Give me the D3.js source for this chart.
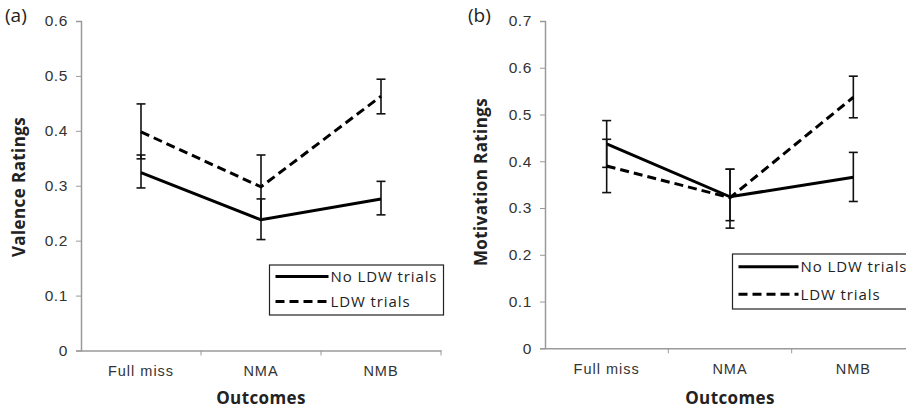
<!DOCTYPE html>
<html>
<head>
<meta charset="utf-8">
<script src="https://cdn.jsdelivr.net/npm/d3@7"></script>
<style>
  body { margin: 0; background: #fff; }
  svg { display: block; font-family: "Open Sans", sans-serif; }
</style>
</head>
<body>
<div class="container"></div>
<script>
const w = 906;
const h = 410;

const outcomes = ['Full miss', 'NMA', 'NMB'];
const seriesNames = ['No LDW trials', 'LDW trials'];

// panel (a) valence
const valenceNoLdw = [0.324, 0.238, 0.276];
const valenceNoLdwLow = [0.296, 0.202, 0.247];
const valenceNoLdwHigh = [0.356, 0.276, 0.308];
const valenceLdw = [0.398, 0.298, 0.463];
const valenceLdwLow = [0.349, 0.240, 0.431];
const valenceLdwHigh = [0.449, 0.356, 0.494];
const valenceTicks = [0, 0.1, 0.2, 0.3, 0.4, 0.5, 0.6];

// panel (b) motivation
const motivNoLdw = [0.437, 0.324, 0.366];
const motivNoLdwLow = [0.387, 0.273, 0.314];
const motivNoLdwHigh = [0.487, 0.383, 0.419];
const motivLdw = [0.390, 0.322, 0.537];
const motivLdwLow = [0.333, 0.257, 0.493];
const motivLdwHigh = [0.447, 0.383, 0.582];
const motivTicks = [0, 0.1, 0.2, 0.3, 0.4, 0.5, 0.6, 0.7];

const svg = d3.select('.container')
    .append('svg')
    .attr('width', w)
    .attr('height', h);

function drawPanel(opt) {
    const g = svg.append('g');

    const xScale = d3.scaleBand()
        .domain(outcomes)
        .range([opt.left, opt.right]);

    const yScale = d3.scaleLinear()
        .domain([0, opt.max])
        .range([opt.bottom, opt.top]);

    const yAxis = d3.axisLeft(yScale)
        .tickValues(opt.ticks)
        .tickFormat(d => d === 0 ? '0' : d3.format('.1f')(d))
        .tickSize(5)
        .tickPadding(8);

    const yg = g.append('g')
        .attr('transform', `translate(${opt.left}, 0)`)
        .call(yAxis);

    const xAxis = d3.axisBottom(xScale)
        .tickSize(0)
        .tickPadding(15);

    const xg = g.append('g')
        .attr('transform', `translate(0, ${opt.bottom})`)
        .call(xAxis);

    // tick marks on the band boundaries
    xg.selectAll('.bound')
        .data(outcomes)
        .enter()
        .append('line')
        .attr('class', 'bound')
        .attr('x1', d => xScale(d) + xScale.bandwidth())
        .attr('x2', d => xScale(d) + xScale.bandwidth())
        .attr('y1', 0)
        .attr('y2', 5)
        .attr('stroke', '#9a9a9a');

    [yg, xg].forEach(ax => {
        ax.select('.domain').attr('stroke', '#9a9a9a').attr('stroke-width', 1.5);
        ax.selectAll('.tick line').attr('stroke', '#9a9a9a');
        ax.selectAll('text')
            .style('font-size', '15.5px')
            .style('letter-spacing', '0.6px')
            .attr('fill', '#333');
    });
    xg.selectAll('text').style('font-size', '14.5px').style('letter-spacing', '1px');

    const cx = d => xScale(d) + xScale.bandwidth() / 2;

    const series = [
        { vals: opt.noLdw, low: opt.noLow, high: opt.noHigh, dash: null },
        { vals: opt.ldw, low: opt.ldwLow, high: opt.ldwHigh, dash: '9,5' }
    ];

    const line = d3.line()
        .x((d, i) => cx(outcomes[i]))
        .y(d => yScale(d));

    series.forEach(s => {
        // error bars
        outcomes.forEach((o, i) => {
            g.append('line')
                .attr('x1', cx(o)).attr('x2', cx(o))
                .attr('y1', yScale(s.low[i])).attr('y2', yScale(s.high[i]))
                .attr('stroke', '#111').attr('stroke-width', 1.6);
            [s.low[i], s.high[i]].forEach(v => {
                g.append('line')
                    .attr('x1', cx(o) - 4.5).attr('x2', cx(o) + 4.5)
                    .attr('y1', yScale(v)).attr('y2', yScale(v))
                    .attr('stroke', '#111').attr('stroke-width', 1.6);
            });
        });

        g.append('path')
            .datum(s.vals)
            .attr('d', line)
            .attr('fill', 'none')
            .attr('stroke', '#000')
            .attr('stroke-width', 3)
            .attr('stroke-dasharray', s.dash);
    });

    // y axis title
    g.append('text')
        .attr('transform', `translate(${opt.yLabelX}, ${opt.yLabelY}) rotate(-90)`)
        .attr('text-anchor', 'middle')
        .style('font-size', '17px')
        .style('font-weight', 'bold')
        .style('letter-spacing', '0.4px')
        .attr('fill', '#222')
        .text(opt.yLabel);

    // x axis title
    g.append('text')
        .attr('x', (opt.left + opt.right) / 2)
        .attr('y', 404)
        .attr('text-anchor', 'middle')
        .style('font-size', '17px')
        .style('font-weight', 'bold')
        .style('letter-spacing', '0.4px')
        .attr('fill', '#222')
        .text('Outcomes');

    // panel letter
    g.append('text')
        .attr('x', opt.letterX)
        .attr('y', 22)
        .style('font-size', '19px')
        .attr('fill', '#222')
        .text(opt.letter);

    // legend
    const lg = g.append('g')
        .attr('transform', `translate(${opt.legX}, ${opt.legY})`);
    lg.append('rect')
        .attr('width', opt.legW)
        .attr('height', opt.legH)
        .attr('fill', '#fff')
        .attr('stroke', '#222')
        .attr('stroke-width', 1.2);
    seriesNames.forEach((name, i) => {
        const yy = opt.legH * (i === 0 ? 0.23 : 0.73);
        lg.append('line')
            .attr('x1', 6).attr('x2', opt.lineEnd)
            .attr('y1', yy).attr('y2', yy)
            .attr('stroke', '#000')
            .attr('stroke-width', 3)
            .attr('stroke-dasharray', i === 0 ? null : '9,5');
        lg.append('text')
            .attr('x', opt.lineEnd + 2)
            .attr('y', yy + 5.5)
            .style('font-size', '15px')
            .style('letter-spacing', '0.9px')
            .attr('fill', '#222')
            .text(name);
    });
}

drawPanel({
    left: 81, right: 441, top: 21, bottom: 350.5, max: 0.6,
    ticks: valenceTicks,
    noLdw: valenceNoLdw, noLow: valenceNoLdwLow, noHigh: valenceNoLdwHigh,
    ldw: valenceLdw, ldwLow: valenceLdwLow, ldwHigh: valenceLdwHigh,
    yLabel: 'Valence Ratings', yLabelX: 25, yLabelY: 187,
    letter: '(a)', letterX: 5,
    legX: 269.5, legY: 265, legW: 174, legH: 50, lineEnd: 59
});

drawPanel({
    left: 545, right: 915, top: 21, bottom: 348.3, max: 0.7,
    ticks: motivTicks,
    noLdw: motivNoLdw, noLow: motivNoLdwLow, noHigh: motivNoLdwHigh,
    ldw: motivLdw, ldwLow: motivLdwLow, ldwHigh: motivLdwHigh,
    yLabel: 'Motivation Ratings', yLabelX: 487, yLabelY: 182,
    letter: '(b)', letterX: 468,
    legX: 732.5, legY: 254, legW: 180, legH: 55, lineEnd: 66
});
</script>
</body>
</html>
